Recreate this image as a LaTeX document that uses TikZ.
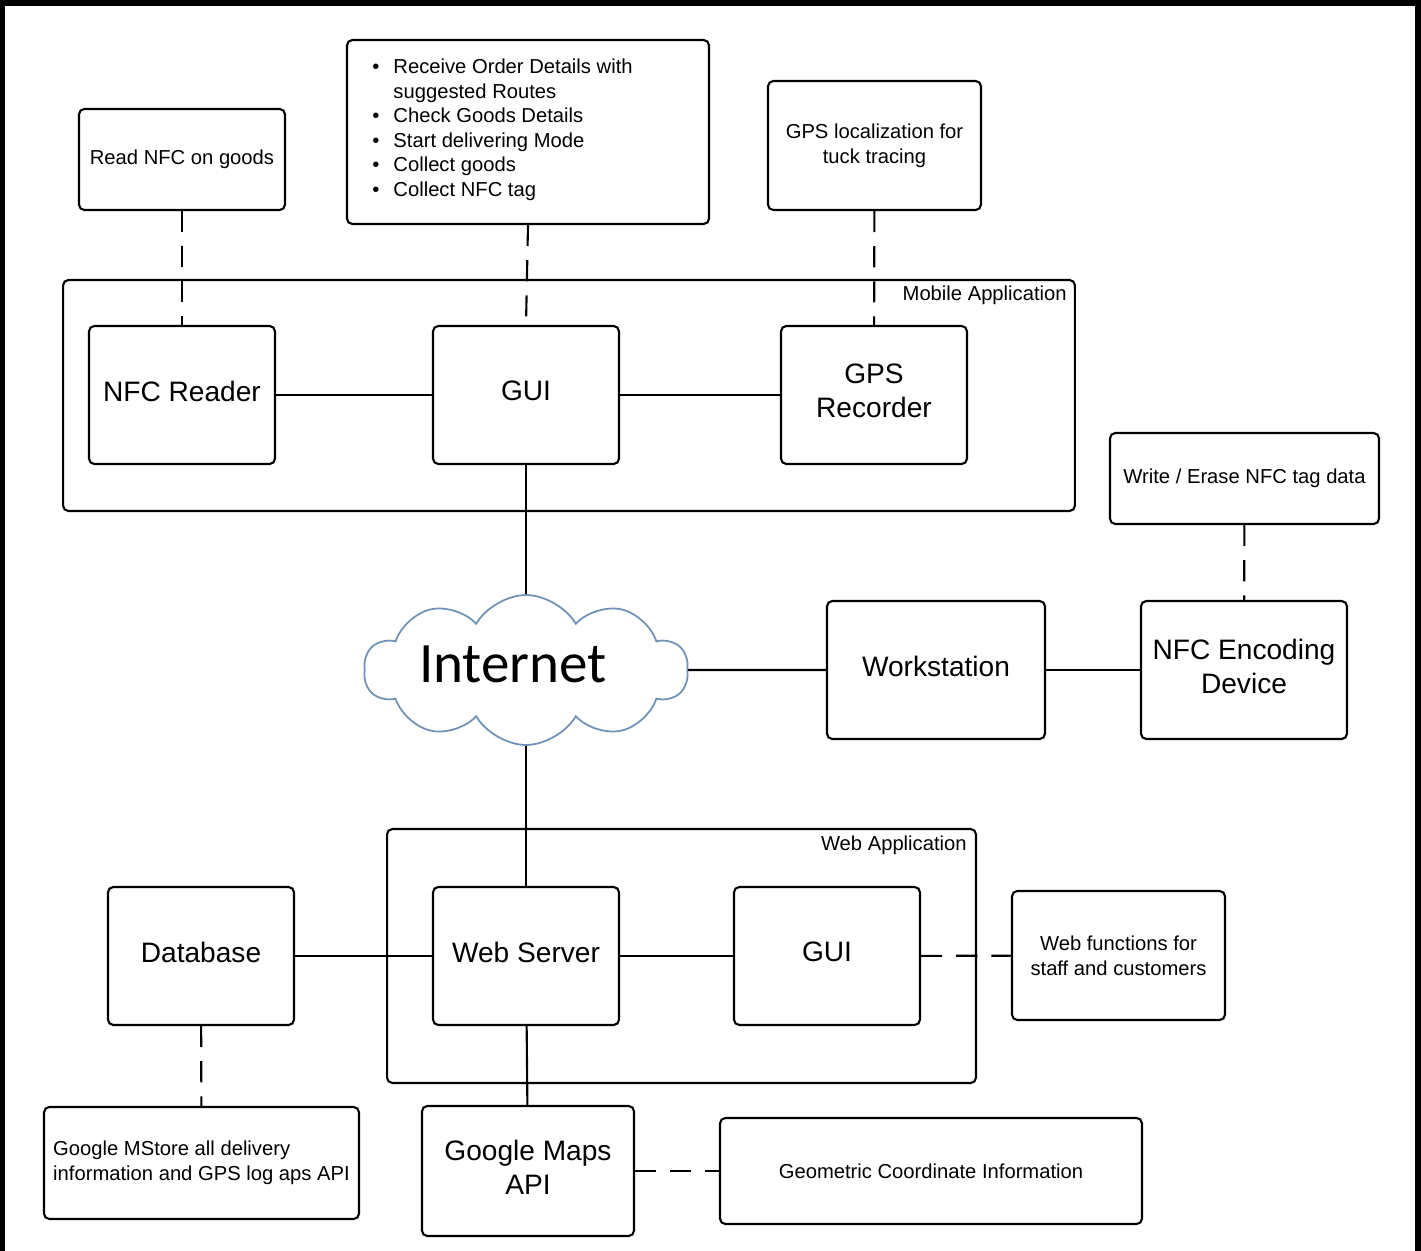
\documentclass[tikz,border=0pt]{standalone}
\usepackage{fontspec}
\setmainfont{Liberation Sans}
\newfontfamily\cloudfont{Carlito}
\usetikzlibrary{shapes.symbols}
\definecolor{cloudline}{RGB}{112,146,182}

\begin{document}
\begin{tikzpicture}[x=0.02cm, y=-0.02cm]
    \tikzset{box/.style={draw, rounded corners=3pt, line width=1.2pt, fill=white,
            minimum width=3.72cm, minimum height=2.76cm, align=center, inner sep=2pt,
            font=\fontsize{16}{19.5}\selectfont, text depth=4.5pt},
        note/.style={box, font=\fontsize{11.5}{14}\selectfont, text depth=},
        group/.style={draw, rounded corners=3pt, line width=1.2pt},
        grouplabel/.style={anchor=east, inner sep=0pt, font=\fontsize{11.5}{14}\selectfont},
        link/.style={line width=1.2pt},
        dashlink/.style={link, dash pattern=on 12pt off 8pt}}
    \useasboundingbox (0,0) rectangle (1421,1251);
    %Rahmen
    \fill[black] (0,0) rectangle (1421,1251);
    \fill[white] (5,6) rectangle (1415,1251);

    %Mobile Application
    \node[group, minimum width=20.24cm, minimum height=4.62cm] (mobile) at (569,395.5) {};
    \node[grouplabel] (mobilelabel) at (1067,295) {Mobile Application};
    \node[box] (nfcreader) at (182,395) {NFC Reader};
    \node[box] (mgui)      at (526,395) {GUI};
    \node[box] (gpsrec)    at (874,395) {GPS\\Recorder};
    \draw[link] (nfcreader) -- (mgui);
    \draw[link] (mgui) -- (gpsrec);

    %Notizen oben
    \node[note, minimum width=4.12cm, minimum height=2.02cm] (readnfc) at (182,159.5) {Read NFC on goods};
    \node[note, minimum width=7.24cm, minimum height=3.68cm] (tasks) at (528,132) {};
    \node[anchor=north west, inner sep=0pt, font=\fontsize{11.5}{14}\selectfont] (tasklist) at (372,56)
        {\begin{tabular}{@{}l@{\hspace{8pt}}l@{}}
            \textbullet & Receive Order Details with\\
                        & suggested Routes\\
            \textbullet & Check Goods Details\\
            \textbullet & Start delivering Mode\\
            \textbullet & Collect goods\\
            \textbullet & Collect NFC tag
        \end{tabular}};
    \node[note, minimum width=4.26cm, minimum height=2.58cm] (gpsnote) at (874.5,145.5) {GPS localization for\\tuck tracing};
    \draw[dashlink] (readnfc) -- (nfcreader);
    \draw[dashlink] (tasks.south) -- (mgui.north);
    \draw[dashlink] (gpsnote) -- (gpsrec);

    %Internet
    \node[cloud, cloud puffs=10, cloud puff arc=120, aspect=2.16, draw=cloudline, line width=1pt,
        fill=white, minimum width=6.48cm, minimum height=3cm, inner sep=0pt] (internet) at (526,670) {};
    \node[font=\cloudfont\fontsize{32.5}{36}\selectfont, inner sep=0pt] (internettext) at (513,664) {Internet};
    \node[box, minimum width=4.36cm] (workstation) at (936,670) {Workstation};
    \node[box, minimum width=4.12cm] (encoder) at (1244,670) {NFC Encoding\\Device};
    \node[note, minimum width=5.38cm, minimum height=1.82cm] (erase) at (1244.5,478.5) {Write / Erase NFC tag data};
    \draw[link] (mgui) -- (internet);
    \draw[link] (internet) -- (workstation);
    \draw[link] (workstation) -- (encoder);
    \draw[dashlink] (erase) -- (encoder);

    %Web Application
    \node[group, minimum width=11.78cm, minimum height=5.08cm] (web) at (681.5,956) {};
    \node[grouplabel] (weblabel) at (967,845) {Web Application};
    \node[box] (database)  at (201,956) {Database};
    \node[box] (webserver) at (526,956) {Web Server};
    \node[box] (wgui)      at (827,956) {GUI};
    \node[note, minimum width=4.26cm, minimum height=2.58cm] (webnote) at (1118.5,955.5) {Web functions for\\staff and customers};
    \draw[link] (internet) -- (webserver);
    \draw[link] (database) -- (webserver);
    \draw[link] (webserver) -- (wgui);
    \draw[dashlink] (wgui) -- (webnote);

    %unten
    \node[note, minimum width=6.3cm, minimum height=2.24cm, align=left] (mstore) at (201.5,1163)
        {Google MStore all delivery\\information and GPS log aps API};
    \node[box, minimum width=4.24cm, minimum height=2.6cm] (maps) at (528,1171) {Google Maps\\API};
    \node[note, minimum width=8.44cm, minimum height=2.12cm] (geometric) at (931,1171) {Geometric Coordinate Information};
    \draw[dashlink] (database) -- (mstore);
    \draw[link] (webserver) -- (maps);
    \draw[dashlink] (maps) -- (geometric);
\end{tikzpicture}
\end{document}
